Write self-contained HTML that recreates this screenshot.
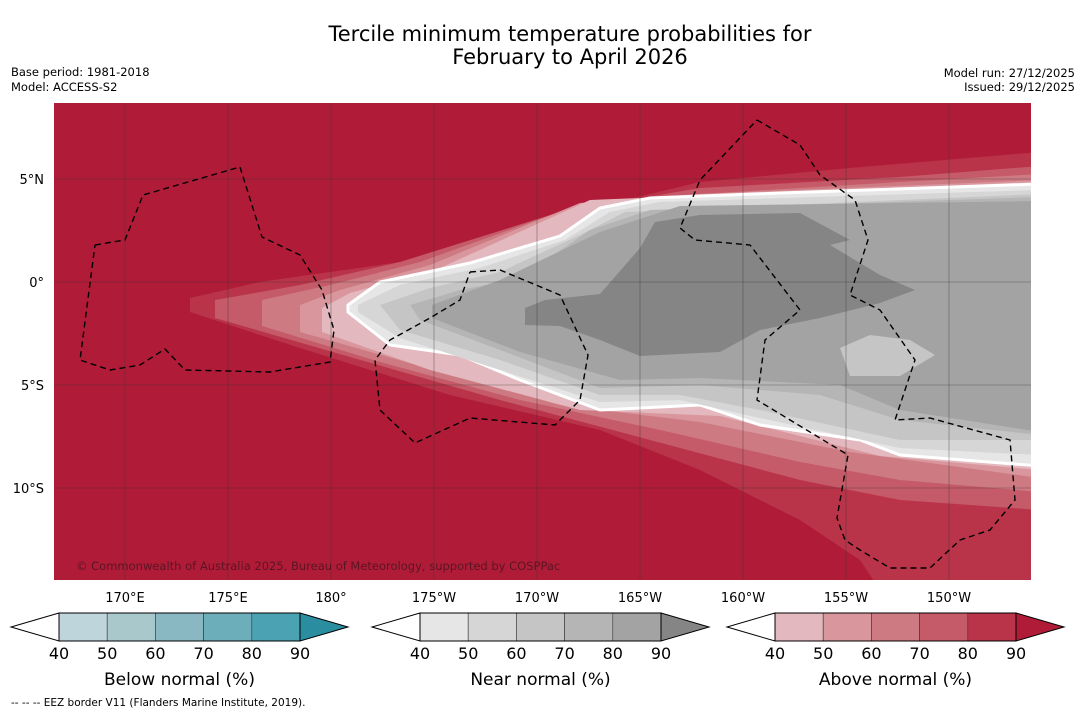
<!DOCTYPE html>
<html><head><meta charset="utf-8"><style>
body{margin:0;background:#fff;font-family:"DejaVu Sans","Liberation Sans",sans-serif;}
svg{display:block}
</style></head><body>
<svg id="s" width="1085" height="713" viewBox="0 0 1085 713" xmlns="http://www.w3.org/2000/svg" font-family="DejaVu Sans, Liberation Sans, sans-serif">
<text x="570" y="41" font-size="21" text-anchor="middle">Tercile minimum temperature probabilities for</text>
<text x="570" y="64" font-size="21" text-anchor="middle">February to April 2026</text>
<text x="11" y="76" font-size="11.5">Base period: 1981-2018</text>
<text x="11" y="91" font-size="11.5">Model: ACCESS-S2</text>
<text x="1075" y="77" font-size="11.5" text-anchor="end">Model run: 27/12/2025</text>
<text x="1075" y="91" font-size="11.5" text-anchor="end">Issued: 29/12/2025</text>
<defs><clipPath id="mc"><rect x="54" y="103" width="977" height="477"/></clipPath></defs>
<g id="map" clip-path="url(#mc)">
<rect x="54" y="103" width="977" height="477" fill="#b01c38"/>
</g>
<g id="grid"></g>
<g id="eez"></g>
<text x="76" y="570" font-size="11.5" fill="#5b1424">© Commonwealth of Australia 2025, Bureau of Meteorology, supported by COSPPac</text>
<g id="axes"></g>
<g id="bars"></g>
<text x="11" y="706" font-size="10.5">--  --  -- EEZ border V11 (Flanders Marine Institute, 2019).</text>
</svg>
<script>
const NS="http://www.w3.org/2000/svg";
const lonTicks=[170,175,180,185,190,195,200,205,210];
const lonLabels=["170°E","175°E","180°","175°W","170°W","165°W","160°W","155°W","150°W"];
const latTicks=[5,0,-5,-10];
const latLabels=["5°N","0°","5°S","10°S"];
const barTicks=["40","50","60","70","80","90"];
const belowColors=["#bfd5dc","#a8c8cc","#89b8c3","#6daebb","#4aa2b2","#2a8ea0"];
const nearColors=["#e6e6e6","#d6d6d6","#c5c5c5","#b5b5b5","#a3a3a3","#858585"];
const aboveColors=["#e3b8be","#d9969d","#ce7a82","#c55a68","#b93448","#b01c38"];
const barTitles=["Below normal (%)","Near normal (%)","Above normal (%)"];
const P=(pts)=>pts.map(p=>[170+(p[0]-125)/20.6,(282-p[1])/20.6]);
const contours=[
 {c:"#b93448",pts:P([[190,298],[260,282],[400,262],[550,218],[700,182],[850,168],[1040,152],[1040,590],[880,590],[860,560],[800,520],[700,470],[600,430],[450,395],[300,348],[190,312]])},
 {c:"#c55a68",pts:P([[215,300],[300,285],[400,262],[560,212],[700,188],[900,177],[1040,166],[1040,510],[900,500],[800,480],[650,440],[500,400],[350,357],[215,318]])},
 {c:"#ce7a82",pts:P([[262,300],[330,285],[420,262],[570,208],[650,197],[900,182],[1040,174],[1040,492],[900,480],[800,462],[660,430],[520,400],[380,362],[262,326]])},
 {c:"#d9969d",pts:P([[300,305],[340,290],[430,265],[580,203],[700,194],[1040,180],[1040,478],[850,452],[700,422],[560,405],[420,366],[300,332]])},
 {c:"#e3b8be",pts:P([[322,308],[350,293],[440,268],[590,200],[1040,182],[1040,470],[880,456],[720,416],[580,410],[430,370],[322,332]])},
 {c:"#e6e6e6",pts:P([[348,305],[380,282],[470,263],[560,236],[600,208],[650,198],[780,193],[1040,184],[1040,466],[900,455],[860,440],[760,425],[700,405],[600,410],[520,380],[460,355],[390,345],[348,312]])},
 {c:"#d6d6d6",pts:P([[358,305],[400,285],[480,268],[565,240],[610,212],[660,202],[1040,190],[1040,455],[900,448],[760,418],[680,400],[600,402],[500,370],[400,338],[358,312]])},
 {c:"#c5c5c5",pts:P([[380,305],[430,288],[500,272],[580,235],[625,212],[1040,194],[1040,440],[900,440],[760,410],[680,395],[600,395],[500,360],[400,330]])},
 {c:"#b5b5b5",pts:P([[410,305],[460,290],[520,278],[590,230],[650,210],[1040,197],[1040,435],[900,420],[820,395],[700,385],[600,388],[500,350],[420,320]])},
 {c:"#a3a3a3",pts:P([[432,305],[500,280],[600,232],[680,206],[1040,201],[1040,432],[900,410],[840,385],[700,378],[620,380],[520,352],[432,318]])},
 {c:"#858585",pts:P([[525,308],[545,300],[600,294],[640,248],[655,222],[700,215],[800,213],[850,240],[830,245],[880,275],[915,290],[880,303],[820,318],[760,330],[720,352],[640,356],[600,340],[560,326],[525,325]])},
 {c:"#c5c5c5",pts:P([[840,348],[870,335],[910,340],[935,355],[900,376],[850,376]])},
];
const eezLines=[
 P([[95,245],[125,240],[143,195],[240,167],[262,237],[300,255],[322,290],[334,330],[330,362],[270,372],[185,370],[165,349],[140,365],[110,370],[80,360],[95,245]]),
 P([[470,272],[500,270],[560,295],[588,355],[580,400],[555,425],[470,418],[415,443],[380,410],[375,360],[390,340],[430,318],[460,300],[470,272]]),
 P([[757,120],[800,145],[820,175],[855,200],[868,240],[850,295],[880,310],[915,360],[895,420],[930,418],[1010,440],[1015,500],[990,530],[960,540],[930,568],[890,568],[860,550],[845,540],[837,518],[848,455],[757,400],[765,340],[800,310],[750,245],[695,240],[680,228],[700,180],[757,120]])
];
const x=lon=>125+(lon-170)*20.6;
const y=lat=>282-lat*20.6;
function mk(tag,attrs,parent){const e=document.createElementNS(NS,tag);for(const k in attrs)e.setAttribute(k,attrs[k]);parent.appendChild(e);return e;}
const map=document.getElementById('map');
contours.forEach((c,i)=>{
 const p=mk('polygon',{points:c.pts.map(q=>x(q[0])+','+y(q[1])).join(' '),fill:c.c},map);
 
 
});
const wb=mk('polygon',{points:contours[5].pts.map(q=>x(q[0])+','+y(q[1])).join(' '),fill:'none',stroke:'#fff','stroke-width':3},map);


contours.slice(6).forEach((c,i)=>{
 const p=mk('polygon',{points:c.pts.map(q=>x(q[0])+','+y(q[1])).join(' '),fill:c.c},map);
 
 
});
const grid=document.getElementById('grid'),axes=document.getElementById('axes');
lonTicks.forEach((l,i)=>{
 const g=mk('line',{x1:x(l),x2:x(l),y1:103,y2:580,stroke:'#333','stroke-width':0.6,'stroke-opacity':0.6},grid);
 
 
 const t=mk('text',{x:x(l),y:602,'font-size':13,'text-anchor':'middle'},axes);t.textContent=lonLabels[i];
 
 
});
latTicks.forEach((l,i)=>{
 const g=mk('line',{x1:54,x2:1031,y1:y(l),y2:y(l),stroke:'#333','stroke-width':0.6,'stroke-opacity':0.6},grid);
 
 
 const t=mk('text',{x:44,y:y(l)+5,'font-size':13,'text-anchor':'end'},axes);t.textContent=latLabels[i];
 
 
});
const eez=document.getElementById('eez');
eezLines.forEach(l=>{
 const p=mk('polyline',{points:l.map(q=>x(q[0])+','+y(q[1])).join(' '),fill:'none',stroke:'#000','stroke-width':1.4,'stroke-dasharray':'6,4'},eez);
 
 
});
const bars=document.getElementById('bars');
const starts=[59,420,775],bw=48.2,by=613,bh=28;
[belowColors,nearColors,aboveColors].forEach((cols,b)=>{
 const x0=starts[b];
 const g=mk('g',{},bars);
 
 
 mk('polygon',{points:`${x0},${by} ${x0-48},${by+bh/2} ${x0},${by+bh}`,fill:'#fff',stroke:'#000','stroke-width':1},g);
 for(let i=0;i<5;i++){
  const r=mk('rect',{x:x0+i*bw,y:by,width:bw,height:bh,fill:cols[i],stroke:'#333','stroke-width':0.6},g);
  
  
 }
 const xe=x0+5*bw;
 mk('polygon',{points:`${xe},${by} ${xe+48},${by+bh/2} ${xe},${by+bh}`,fill:cols[5],stroke:'#000','stroke-width':1},g);
 mk('rect',{x:x0,y:by,width:5*bw,height:bh,fill:'none',stroke:'#000','stroke-width':1},g);
 barTicks.forEach((t,i)=>{
  const tx=mk('text',{x:x0+i*bw,y:659,'font-size':16,'text-anchor':'middle'},g);tx.textContent=t;
  
  
 });
 const tt=mk('text',{x:x0+2.5*bw,y:685,'font-size':17,'text-anchor':'middle'},g);tt.textContent=barTitles[b];
 
 
});
</script>
</body></html>
